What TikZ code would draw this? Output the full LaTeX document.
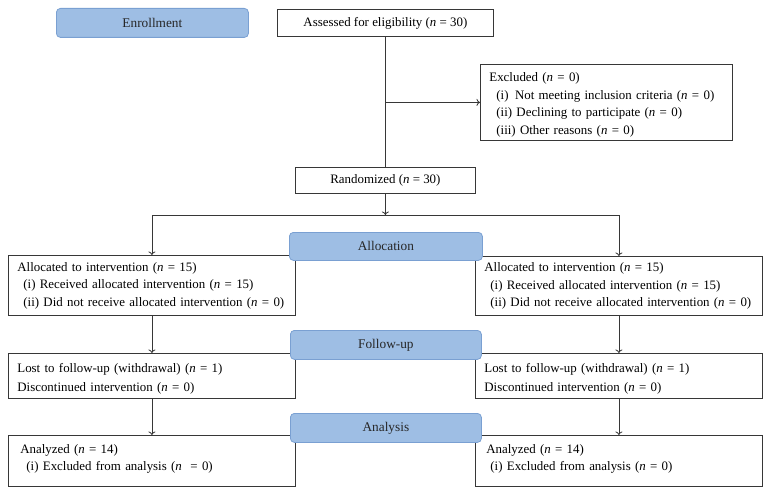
\documentclass[tikz,border=0pt]{standalone}
\usepackage{fontspec}
\setmainfont{Liberation Serif}
\usetikzlibrary{arrows.meta}
\definecolor{phasefill}{RGB}{158,190,228}
\definecolor{phaseline}{RGB}{122,160,210}
\definecolor{linegray}{RGB}{55,55,55}
\begin{document}
\begin{tikzpicture}[x=1pt,y=-1pt,
  stagebox/.style={draw=linegray,line width=.8pt,anchor=north west,inner xsep=9pt,inner ysep=0pt,
    font=\fontsize{12.9}{17.5}\selectfont,text=black},
  listbox/.style={stagebox,align=left},
  phase/.style={draw=phaseline,fill=phasefill,rounded corners=4pt,line width=.8pt,anchor=north west,
    font=\fontsize{13.3}{15}\selectfont,text=black!85},
  flow/.style={draw=linegray,line width=.8pt,-{To[length=3.5pt,width=7pt]}}]
  \useasboundingbox (0,0) rectangle (771,487);
  % boxes
  \node[stagebox,minimum width=216,minimum height=27] (assess) at (277,9)
    {Assessed for eligibility (\textit{n} = 30)};
  \node[listbox,minimum width=252,minimum height=76,text width=234] (excl) at (480,64)
    {\rule{0pt}{14pt}Excluded (\textit{n} = 0)\\
     \hspace*{7pt}(i)\, Not meeting inclusion criteria (\textit{n} = 0)\\
     \hspace*{7pt}(ii) Declining to participate (\textit{n} = 0)\\
     \hspace*{7pt}(iii) Other reasons (\textit{n} = 0)};
  \node[stagebox,minimum width=180,minimum height=26] (rand) at (295,167)
    {Randomized (\textit{n} = 30)};
  \node[listbox,minimum width=287,minimum height=60,text width=269] (allocL) at (8,255)
    {Allocated to intervention (\textit{n} = 15)\\
     \hspace*{6pt}(i) Received allocated intervention (\textit{n} = 15)\\
     \hspace*{6pt}(ii) Did not receive allocated intervention (\textit{n} = 0)};
  \node[listbox,minimum width=287,minimum height=59,text width=269] (allocR) at (475,256)
    {Allocated to intervention (\textit{n} = 15)\\
     \hspace*{6pt}(i) Received allocated intervention (\textit{n} = 15)\\
     \hspace*{6pt}(ii) Did not receive allocated intervention (\textit{n} = 0)};
  \node[listbox,minimum width=287,minimum height=45,text width=269,
    font=\fontsize{12.9}{19}\selectfont] (lostL) at (8,353)
    {\rule{0pt}{15pt}Lost to follow-up (withdrawal) (\textit{n} = 1)\\
     Discontinued intervention (\textit{n} = 0)};
  \node[listbox,minimum width=287,minimum height=45,text width=269,
    font=\fontsize{12.9}{19}\selectfont] (lostR) at (475,353)
    {\rule{0pt}{15pt}Lost to follow-up (withdrawal) (\textit{n} = 1)\\
     Discontinued intervention (\textit{n} = 0)};
  \node[listbox,minimum width=287,minimum height=51,text width=269,text depth=24pt] (anlL) at (8,435)
    {\hspace*{3pt}Analyzed (\textit{n} = 14)\\
     \hspace*{9pt}(i) Excluded from analysis (\textit{n}\ \ = 0)};
  \node[listbox,minimum width=287,minimum height=51,text width=269,text depth=24pt] (anlR) at (475,435)
    {\hspace*{2pt}Analyzed (\textit{n} = 14)\\
     \hspace*{6pt}(i) Excluded from analysis (\textit{n} = 0)};
  % phase labels
  \node[phase,minimum width=192,minimum height=29] (enroll) at (56,8) {Enrollment};
  \node[phase,minimum width=193,minimum height=28] (allocP) at (289,232) {Allocation};
  \node[phase,minimum width=191,minimum height=29] (follow) at (290,330) {Follow-up};
  \node[phase,minimum width=191,minimum height=29] (analysis) at (290,413) {Analysis};
  % connectors
  \coordinate (split) at (rand.south |- 0,215);
  \draw[draw=linegray,line width=.8pt] (assess.south) -- (rand.north);
  \draw[flow] (assess.south |- excl.west) -- (excl.west);
  \draw[flow] (rand.south) -- (split);
  \draw[flow] (split) -| (allocL.north);
  \draw[flow] (split) -| (allocR.north);
  \draw[flow] (allocL.south) -- (lostL.north);
  \draw[flow] (allocR.south) -- (lostR.north);
  \draw[flow] (lostL.south) -- (anlL.north);
  \draw[flow] (lostR.south) -- (anlR.north);
\end{tikzpicture}
\end{document}
